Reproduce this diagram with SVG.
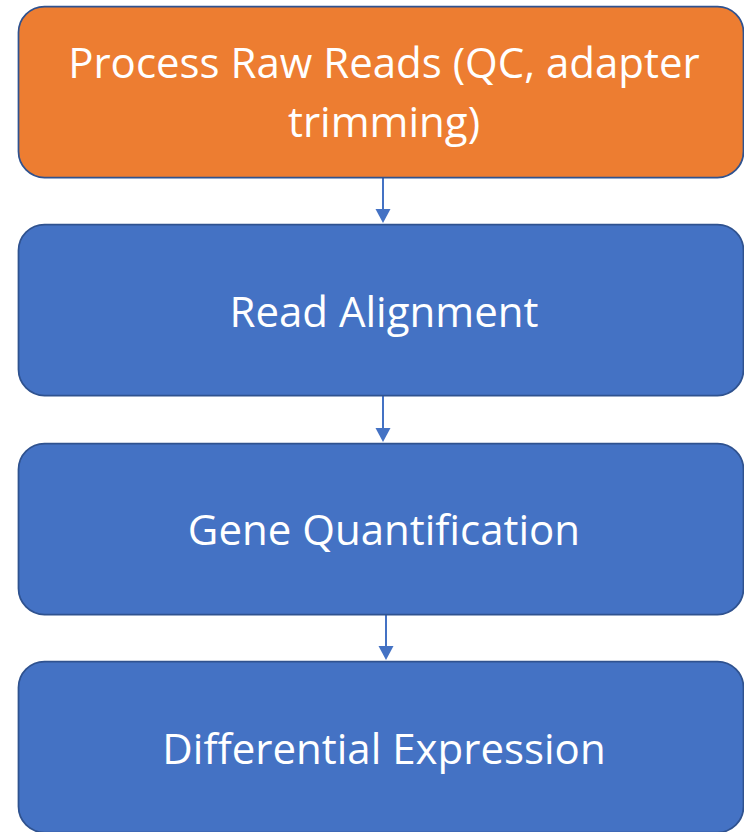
<svg xmlns="http://www.w3.org/2000/svg" width="744" height="832" viewBox="0 0 744 832">
<defs>
<style>
.box{stroke:#2F528F;stroke-width:1.75}
.orange{fill:#ED7D31}
.blue{fill:#4472C4}
.lbl{fill:#FFFFFF;font-family:"Open Sans","Liberation Sans",sans-serif;font-size:42px;text-anchor:middle}
.conn{stroke:#4472C4;stroke-width:2;fill:none}
.head{fill:#4472C4}
</style>
</defs>
<g id="connectors">
<line class="conn" x1="383" y1="178" x2="383" y2="210"/>
<path class="head" d="M375.5,209 L390.5,209 L383,223 Z"/>
<line class="conn" x1="383" y1="396" x2="383" y2="429"/>
<path class="head" d="M375.5,428 L390.5,428 L383,442 Z"/>
<line class="conn" x1="386" y1="615" x2="386" y2="647"/>
<path class="head" d="M378.5,646 L393.5,646 L386,660 Z"/>
</g>
<g id="node1">
<rect class="box orange" x="18.5" y="6.5" width="725" height="171" rx="26"/>
<text class="lbl" x="384" y="78">Process Raw Reads (QC, adapter</text>
<text class="lbl" x="384" y="137">trimming)</text>
</g>
<g id="node2">
<rect class="box blue" x="18.5" y="224.5" width="725" height="171" rx="26"/>
<text class="lbl" x="384" y="327">Read Alignment</text>
</g>
<g id="node3">
<rect class="box blue" x="18.5" y="443.5" width="725" height="171" rx="26"/>
<text class="lbl" x="384" y="545">Gene Quantification</text>
</g>
<g id="node4">
<rect class="box blue" x="18.5" y="661.5" width="725" height="171" rx="26"/>
<text class="lbl" x="384" y="764">Differential Expression</text>
</g>
</svg>
